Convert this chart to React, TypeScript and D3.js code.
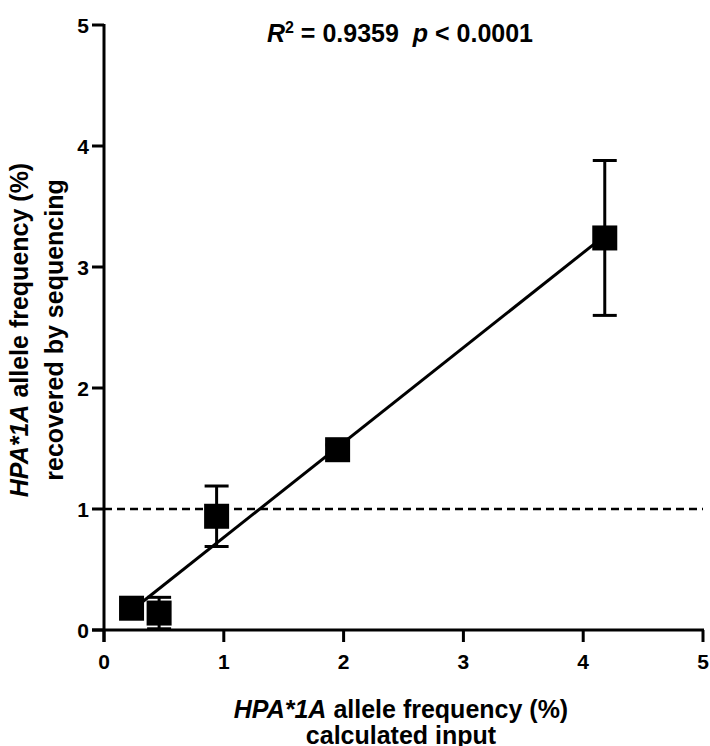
// Scatter of recovered vs calculated allele frequency with a fitted line

import React from 'react';
import * as d3 from 'd3';

// measured points (%)
const inputFreq = [0.23, 0.46, 0.94, 1.95, 4.18];
const recoveredFreq = [0.18, 0.14, 0.94, 1.49, 3.24];
// error half-widths (SD)
const recoveredErr = [0.0, 0.13, 0.25, 0.04, 0.64];

const xTicks = [0, 1, 2, 3, 4, 5];
const yTicks = [0, 1, 2, 3, 4, 5];
const refLevel = 1;

const FONT = '"Liberation Sans", Arial, Helvetica, sans-serif';

const App = () => {
  const width = 710, height = 746;
  const margin = { top: 25, right: 7, bottom: 116, left: 104 };

  const xScale = d3.scaleLinear().domain([0, 5]).range([margin.left, width - margin.right]);
  const yScale = d3.scaleLinear().domain([0, 5]).range([height - margin.bottom, margin.top]);

  // simple least squares fit for the line
  const mx = d3.mean(inputFreq) as number;
  const my = d3.mean(recoveredFreq) as number;
  const sxy = d3.sum(inputFreq, (x, i) => (x - mx) * (recoveredFreq[i] - my));
  const sxx = d3.sum(inputFreq, x => (x - mx) * (x - mx));
  const slope = sxy / sxx;
  const intercept = my - slope * mx;
  const [x0, x1] = d3.extent(inputFreq) as [number, number];
  const fitLine = d3.line<number>().x(x => xScale(x)).y(x => yScale(intercept + slope * x));

  const y0 = yScale(0);
  const xLeft = xScale(0);
  const tick = 12;
  const sq = 25;
  const cap = 24;
  const sw = 3;

  return (
    <svg width={width} height={height} style={{ position: 'absolute', left: 0, top: 0, background: '#fff' }}
      fontFamily={FONT}>
      {/* reference line at 1% */}
      <line x1={xScale(0)} x2={xScale(5)} y1={yScale(refLevel)} y2={yScale(refLevel)}
        stroke="#000" strokeWidth={2.5} strokeDasharray="8,5" />

      {/* fitted line */}
      <path d={fitLine([x0, x1]) || ''} stroke="#000" strokeWidth={sw} fill="none" />

      {/* error bars */}
      {inputFreq.map((x, i) => {
        const e = recoveredErr[i];
        if (!e) return null;
        const cx = xScale(x);
        const top = yScale(recoveredFreq[i] + e);
        const bot = yScale(recoveredFreq[i] - e);
        return (
          <g key={`err-${i}`} stroke="#000" strokeWidth={sw}>
            <line x1={cx} x2={cx} y1={top} y2={bot} />
            <line x1={cx - cap / 2} x2={cx + cap / 2} y1={top} y2={top} />
            <line x1={cx - cap / 2} x2={cx + cap / 2} y1={bot} y2={bot} />
          </g>
        );
      })}

      {/* squares */}
      {inputFreq.map((x, i) => (
        <rect key={`pt-${i}`} x={xScale(x) - sq / 2} y={yScale(recoveredFreq[i]) - sq / 2}
          width={sq} height={sq} fill="#000" />
      ))}

      {/* x axis */}
      <line x1={xLeft - tick} x2={xScale(5) + 1} y1={y0} y2={y0} stroke="#000" strokeWidth={sw} />
      {xTicks.map(t => (
        <g key={`xt-${t}`}>
          <line x1={xScale(t)} x2={xScale(t)} y1={y0} y2={y0 + tick} stroke="#000" strokeWidth={sw} />
          <text x={xScale(t)} y={669} textAnchor="middle" fontSize={21} fontWeight="bold">{t}</text>
        </g>
      ))}

      {/* y axis */}
      <line x1={xLeft} x2={xLeft} y1={yScale(5) - 1} y2={y0 + tick} stroke="#000" strokeWidth={sw} />
      {yTicks.map(t => (
        <g key={`yt-${t}`}>
          <line x1={xLeft - tick} x2={xLeft} y1={yScale(t)} y2={yScale(t)} stroke="#000" strokeWidth={sw} />
          <text x={89} y={yScale(t) + 7.5} textAnchor="end" fontSize={21} fontWeight="bold">{t}</text>
        </g>
      ))}

      {/* title */}
      <text x={400} y={42} textAnchor="middle" fontSize={25} fontWeight="bold">
        <tspan fontStyle="italic">R</tspan>
        <tspan fontSize={16} dy={-9}>2</tspan>
        <tspan dy={9}>{' = 0.9359\u00a0\u00a0'}</tspan>
        <tspan fontStyle="italic">p</tspan>
        <tspan>{' < 0.0001'}</tspan>
      </text>

      {/* x label */}
      <text x={401} y={718} textAnchor="middle" fontSize={25} fontWeight="bold">
        <tspan fontStyle="italic">HPA*1A</tspan>
        <tspan> allele frequency (%)</tspan>
      </text>
      <text x={401} y={744} textAnchor="middle" fontSize={25} fontWeight="bold">calculated input</text>

      {/* y label */}
      <text transform={`translate(28, 330) rotate(-90)`} textAnchor="middle" fontSize={25} fontWeight="bold">
        <tspan fontStyle="italic">HPA*1A</tspan>
        <tspan> allele frequency (%)</tspan>
      </text>
      <text transform={`translate(63, 330) rotate(-90)`} textAnchor="middle" fontSize={25} fontWeight="bold">
        recovered by sequencing
      </text>
    </svg>
  );
};

export default App;
